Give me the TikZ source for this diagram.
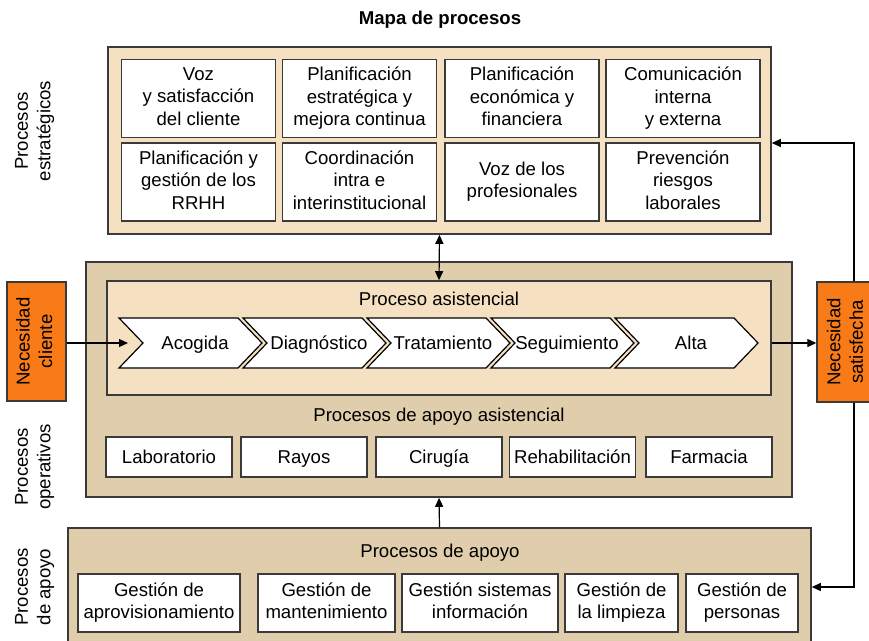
\documentclass[tikz,border=0pt]{standalone}
\usepackage{fontspec}
\setmainfont{Liberation Sans}
\usetikzlibrary{arrows.meta,calc}
\definecolor{edge}{HTML}{3A3A3A}
\definecolor{paleTan}{HTML}{F5E1C1}
\definecolor{darkTan}{HTML}{DFCDAB}
\definecolor{orangeBox}{HTML}{F97B18}
\newcommand\linestrut{\rule[-4.5pt]{0pt}{22.5pt}}

\tikzset{
  txt/.style={font=\fontsize{18.6}{22.5}\selectfont, align=center, inner sep=0pt,
    execute at begin node=\linestrut, execute at end node=\linestrut},
  panel/.style={draw=edge, line width=1.6pt, inner sep=0pt},
  cell/.style={txt, draw=edge, line width=1.4pt, fill=white},
  chev/.style={draw=black, line width=1.2pt, fill=white},
  flow/.style={draw=black, line width=1.2pt, -{Triangle[length=9pt,width=8pt]}},
  biflow/.style={draw=black, line width=1.2pt, {Triangle[length=9pt,width=8pt]}-{Triangle[length=9pt,width=8pt]}},
  need/.style={txt, draw=edge, line width=1.4pt, fill=orangeBox, rotate=90},
  side/.style={txt, rotate=90},
}

\begin{document}
\begin{tikzpicture}[x=1pt,y=-1pt]
\useasboundingbox (0,0) rectangle (869,640);
\clip (0,0) rectangle (869,640);
\fill[white] (0,0) rectangle (869,640);

% title
\node[txt, font=\fontsize{18.6}{22.5}\selectfont\bfseries] (title) at (440,18) {Mapa de procesos};

% side labels
\node[side] (lblE) at (35,131) {Procesos\\estratégicos};
\node[side] (lblO) at (35,467) {Procesos\\operativos};
\node[side] (lblA) at (35,587) {Procesos\\de apoyo};

% strategic processes
\node[panel, fill=paleTan, minimum width=663pt, minimum height=187pt] (strat) at (439.5,140.5) {};
\foreach \n/\x/\y/\t in {
  e1/198.5/98.5/{Voz\\y satisfacción\\del cliente},
  e2/359.5/98.5/{Planificación\\estratégica y\\mejora continua},
  e3/522/98.5/{Planificación\\económica y\\financiera},
  e4/683/98.5/{Comunicación\\interna\\y externa},
  e5/198.5/182/{Planificación y\\gestión de los\\RRHH},
  e6/359.5/182/{Coordinación\\intra e\\interinstitucional},
  e7/522/182/{Voz de los\\profesionales},
  e8/683/182/{Prevención\\riesgos\\laborales}}
  \node[cell, minimum width=154pt, minimum height=78pt] (\n) at (\x,\y) {\t};

% operative processes
\node[panel, fill=darkTan, minimum width=706pt, minimum height=235pt] (oper) at (439,379.5) {};
\node[panel, fill=paleTan, minimum width=664pt, minimum height=114pt] (asist) at (439,338) {};
\node[txt] (asistT) at (439,299) {Proceso asistencial};

\foreach \n/\L/\t in {c1/119/Acogida, c2/243/Diagnóstico, c3/367/Tratamiento, c4/491/Seguimiento, c5/615/Alta}{
  \draw[chev] (\L,318) -- (\L+119,318) -- (\L+143,343) -- (\L+119,368) -- (\L,368) -- (\L+24,343) -- cycle;
  \node[txt] (\n) at (\L+76,343) {\t};
}
\coordinate (inlet) at (128,343);

\node[txt] (apoyoAT) at (439,415) {Procesos de apoyo asistencial};
\foreach \n/\x/\t in {a1/169/Laboratorio, a2/304/Rayos, a3/439/Cirugía, a4/572.5/Rehabilitación, a5/709/Farmacia}
  \node[cell, minimum width=126pt, minimum height=40pt] (\n) at (\x,457) {\t};

% support processes
\node[panel, fill=darkTan, minimum width=743pt, minimum height=132pt] (apoyo) at (439.5,594) {};
\node[txt] (apoyoT) at (440,551) {Procesos de apoyo};
\foreach \n/\x/\w/\t in {
  s1/159/162/{Gestión de\\aprovisionamiento},
  s2/326.5/137/{Gestión de\\mantenimiento},
  s3/480/156/{Gestión sistemas\\información},
  s4/621.5/113/{Gestión de\\la limpieza},
  s5/742/112/{Gestión de\\personas}}
  \node[cell, minimum width=\w pt, minimum height=58pt] (\n) at (\x,603) {\t};

% needs
\node[need, minimum width=119pt, minimum height=59pt] (cliente) at (36.5,341.5) {Necesidad\\cliente};
\node[need, minimum width=120pt, minimum height=60pt] (satis) at (847,342) {Necesidad\\satisfecha};

% connectors
\coordinate (loopT) at (854,143);
\coordinate (loopB) at (854,587);
\draw[flow] (inlet -| cliente.south) -- (inlet);
\draw[flow] (inlet -| asist.east) -- (inlet -| satis.north);
\draw[biflow] (strat.south) -- (asist.north);
\draw[flow] (apoyo.north) -- (oper.south);
\draw[flow] (satis.east -| loopT) -- (loopT) -- (strat.east |- loopT);
\draw[flow] (satis.west -| loopB) -- (loopB) -- (apoyo.east |- loopB);
\end{tikzpicture}
\end{document}
